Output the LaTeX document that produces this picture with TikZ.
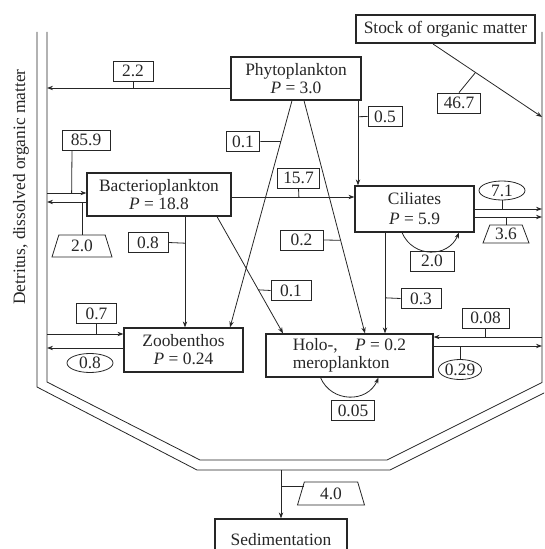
\documentclass[tikz,border=0pt]{standalone}
\usepackage{fontspec}
\setmainfont{Liberation Serif}
\usetikzlibrary{shapes.geometric,arrows.meta}

\begin{document}
\begin{tikzpicture}[x=0.5pt,y=-0.5pt,color=black!85,
    font=\fontsize{8.7}{9}\selectfont,
    comp/.style={draw,line width=0.6pt,align=center,inner sep=0pt},
    val/.style={draw,inner xsep=3pt,inner ysep=0pt,minimum width=20pt,minimum height=10pt},
    oval/.style={draw,ellipse,inner sep=0pt,minimum width=23pt,minimum height=9.5pt},
    trap/.style={draw,trapezium,trapezium left angle=60,trapezium right angle=60,
      trapezium stretches body=true,inner sep=0pt},
    flow/.style={-{Stealth[length=3pt,width=2.2pt]}}]
  \clip (0,0) rectangle (544,549);
  % double wall of the water body
  \draw (37,32) -- (37,387) -- (197,470) -- (390,470) -- (556,387) -- (556,32);
  \draw (47,32) -- (47,382) -- (200,460) -- (387,460) -- (542,382.5) -- (542,32);
  \node[rotate=90] (detr) at (21,187) {Detritus, dissolved organic matter};
  % compartments
  \node[comp,minimum width=65pt,minimum height=21.5pt]   (phyto) at (296,78.5)   {Phytoplankton\\\textit{P}~=~3.0};
  \node[comp,line width=1pt,minimum width=89.5pt,minimum height=14pt] (stock) at (445.5,29) {Stock of organic matter};
  \node[comp,minimum width=72pt,minimum height=21.5pt]   (bact)  at (159,194.5)  {Bacterioplankton\\\textit{P}~=~18.8};
  \node[comp,minimum width=59.5pt,minimum height=23pt]   (cil)   at (414.5,209)  {Ciliates\\[1pt]\textit{P}~=~5.9};
  \node[comp,minimum width=59.5pt,minimum height=22pt]   (zoo)   at (183.5,350)  {Zoobenthos\\\textit{P}~=~0.24};
  \node[comp,align=left,minimum width=83.5pt,minimum height=21.5pt] (holo) at (349.5,355.5) {Holo-,\quad\textit{P}~=~0.2\\meroplankton};
  \node[comp,minimum width=66pt,minimum height=20.5pt]   (sed)   at (281,539.5)  {Sedimentation};
  % flow values
  \node[val]                    (l22)  at (133,71)     {2.2};
  \node[val]                    (l467) at (459,103)    {46.7};
  \node[val,minimum width=17pt] (l05)  at (385,116.5)  {0.5};
  \node[val,minimum width=16pt] (l01a) at (243,141.5)  {0.1};
  \node[val,minimum width=24pt] (l859) at (86,140)     {85.9};
  \node[val]                    (l157) at (298.5,178)  {15.7};
  \node[val,minimum width=21.5pt] (l02) at (301.5,240) {0.2};
  \node[val]                    (l08a) at (148,242.5)  {0.8};
  \node[val]                    (l01b) at (291,290.5)  {0.1};
  \node[val,minimum width=22pt] (l20c) at (432,261)    {2.0};
  \node[val]                    (l03)  at (421,298.5)  {0.3};
  \node[val]                    (l07)  at (96.5,313.5) {0.7};
  \node[val,minimum width=23.5pt] (l008) at (485.5,318) {0.08};
  \node[val]                    (l005) at (353,410.5)  {0.05};
  \node[oval]                   (e71)  at (502,190.5)  {7.1};
  \node[oval]                   (e08b) at (90,363)     {0.8};
  \node[oval,minimum width=19pt,minimum height=10pt] (e029) at (460,369.5) {0.29};
  \node[trap,minimum width=30pt,minimum height=11pt]   (t20) at (82,246)    {2.0};
  \node[trap,minimum width=23pt,minimum height=9pt]    (t36) at (506,234)   {3.6};
  \node[trap,minimum width=33.5pt,minimum height=11.5pt] (t40) at (331,493.5) {4.0};
  % ends on the wall
  \coordinate (d22)  at (47,88);
  \coordinate (d859) at (47,193);
  \coordinate (d20b) at (47,202);
  \coordinate (d07)  at (47,334);
  \coordinate (d08b) at (47,348);
  \coordinate (s467) at (542,117);
  \coordinate (r71)  at (542,209);
  \coordinate (r36)  at (542,217);
  \coordinate (r008) at (542,337);
  \coordinate (r029) at (542,346);
  \coordinate (b40)  at (281,470);
  % from phytoplankton
  \draw[flow] ([yshift=-4.75pt]phyto.west) -- (d22);
  \draw (l22.south) -- (l22.south |- d22);
  \draw[flow] ([xshift=31pt]phyto.south) -- ([xshift=-28.25pt]cil.north) coordinate[pos=0.19] (m05);
  \draw (l05.west) -- (m05);
  \draw[flow] ([xshift=-2pt]phyto.south) -- ([xshift=23.25pt]zoo.north) coordinate[pos=0.18] (m01a);
  \draw (l01a.east) -- (m01a);
  \draw[flow] ([xshift=4pt]phyto.south) -- ([xshift=7.75pt]holo.north) coordinate[pos=0.6] (m02);
  \draw (l02.east) -- (m02);
  % from the stock
  \draw[flow] ([xshift=-6.25pt]stock.south) -- (s467) coordinate[pos=0.39] (m467);
  \draw (l467.north) -- (m467);
  % bacterioplankton
  \draw[flow] (d859) -- ([yshift=0.75pt]bact.west) coordinate[pos=0.625] (m859);
  \draw ([xshift=-7pt]l859.south) -- (m859);
  \draw[flow] ([yshift=-3.75pt]bact.west) -- (d20b);
  \draw (t20.north) -- (t20.north |- d20b);
  \draw[flow] ([yshift=-1.25pt]bact.east) -- ([yshift=6pt]cil.west) coordinate[pos=0.548] (m157);
  \draw (l157.south) -- (m157);
  \draw[flow] ([xshift=13pt]bact.south) -- ([xshift=0.75pt]zoo.north) coordinate[pos=0.24] (m08a);
  \draw (l08a.east) -- (m08a);
  \draw[flow] ([xshift=29pt]bact.south) -- ([xshift=-33.25pt]holo.north) coordinate[pos=0.627] (m01b);
  \draw (l01b.west) -- (m01b);
  % ciliates
  \draw[flow] ([xshift=-6.25pt]cil.south) .. controls +(11,25.5) and +(-11,25.5) .. ([xshift=22.25pt]cil.south);
  \draw[flow] (cil.east) -- (r71);
  \draw (e71.south) -- (e71.south |- r71);
  \draw[flow] ([yshift=-4pt]cil.east) -- (r36);
  \draw (t36.north) -- (t36.north |- r36);
  \draw[flow] ([xshift=-14.75pt]cil.south) -- ([xshift=17.75pt]holo.north) coordinate[pos=0.647] (m03);
  \draw (l03.west) -- (m03);
  % zoobenthos
  \draw[flow] (d07) -- ([yshift=8pt]zoo.west);
  \draw (l07.south) -- (l07.south |- d07);
  \draw[flow] ([yshift=1pt]zoo.west) -- (d08b);
  % holo-, meroplankton
  \draw[flow] (r008) -- ([yshift=9.25pt]holo.east);
  \draw (l008.south) -- (l008.south |- r008);
  \draw[flow] ([yshift=4.75pt]holo.east) -- (r029);
  \draw (e029.north) -- (e029.north |- r029);
  \draw[flow] ([xshift=-14.5pt]holo.south) .. controls +(11,25.5) and +(-11,25.5) .. ([xshift=14.5pt]holo.south);
  % sedimentation
  \draw[flow] (b40) -- (sed.north) coordinate[pos=0.33] (m40);
  \draw (m40) -- (m40 -| t40.top left corner);
\end{tikzpicture}
\end{document}
